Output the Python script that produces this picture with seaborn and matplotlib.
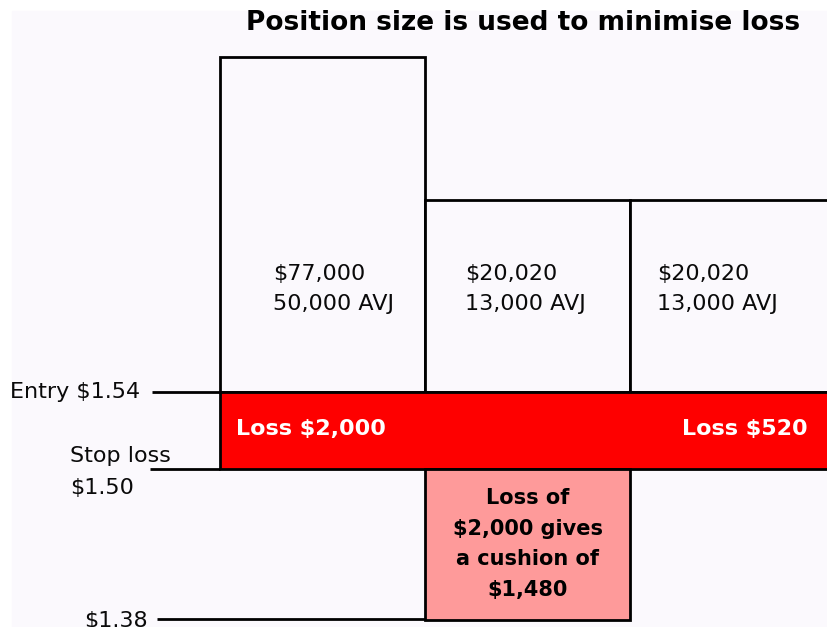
import matplotlib
matplotlib.use("Agg")
import matplotlib.pyplot as plt
import seaborn as sns
import pandas as pd

# ---- data (schematic levels, entry price = 0, stop loss = -1) ----
columns = ["Position A", "Position B", "Position C"]
box_heights = [4.35, 2.49, 2.49]
box_values = ["$77,000", "$20,020", "$20,020"]
box_shares = ["50,000 AVJ", "13,000 AVJ", "13,000 AVJ"]
price_labels = ["Entry $1.54", "Stop loss\n$1.50", "$1.38"]
price_levels = [0.0, -1.0, -2.95]
loss_labels = ["Loss $2,000", "Loss $520"]
cushion_bottom = -2.96
cushion_text = "Loss of\n$2,000 gives\na cushion of\n$1,480"
title = "Position size is used to minimise loss"

BG = "#fbf9fd"
RED = "#fe0000"
PINK = "#fe9a9a"

sns.set_theme(style="white")
plt.rcParams["font.family"] = ["DejaVu Sans"]

fig = plt.figure(figsize=(8.27, 6.27), dpi=100, facecolor="white")
ax = fig.add_axes([12 / 827, 0, 815 / 827, 616 / 627])
ax.set_facecolor(BG)

df = pd.DataFrame({"col": columns, "h": box_heights})
sns.barplot(data=df, x="col", y="h", width=1.0, color=BG, saturation=1,
            edgecolor="black", linewidth=2.0, ax=ax, zorder=2)

# red loss band between entry and stop loss
ax.bar(-0.5, price_levels[1] - price_levels[0], bottom=price_levels[0],
       width=3.0, align="edge", color=RED, edgecolor="black",
       linewidth=2.0, zorder=3)

# cushion box below stop loss under the middle column
ax.bar(1, cushion_bottom - price_levels[1], bottom=price_levels[1],
       width=1.0, color=PINK, edgecolor="black", linewidth=2.0, zorder=3)

# price level leader lines
ax.hlines(price_levels[0], -0.83, -0.5, color="black", lw=2.0, zorder=4)
ax.hlines(price_levels[1], -0.84, -0.5, color="black", lw=2.0, zorder=4)
ax.hlines(price_levels[2], -0.81, 0.5, color="black", lw=2.0, zorder=4)

fs = 16
TXT = "#0a0a0a"
ax.text(-0.89, price_levels[0], price_labels[0], ha="right", va="center",
        fontsize=fs, color=TXT)
ax.text(-1.232, price_levels[1] - 0.04, price_labels[1], ha="left",
        va="center", fontsize=fs, color=TXT, linespacing=1.72)
ax.text(-0.855, price_levels[2] - 0.03, price_labels[2], ha="right",
        va="center", fontsize=fs, color=TXT)

offsets = [-0.241, -0.305, -0.37]
for i, (v, s) in enumerate(zip(box_values, box_shares)):
    ax.text(i + offsets[i], 1.34, f"{v}\n{s}", ha="left", va="center",
            fontsize=fs, color=TXT, linespacing=1.64, zorder=5)

ax.text(-0.422, -0.48, loss_labels[0], ha="left", va="center",
        fontsize=fs, color="white", fontweight="bold", zorder=5)
ax.text(2.368, -0.48, loss_labels[1], ha="right", va="center",
        fontsize=fs, color="white", fontweight="bold", zorder=5)

ax.text(1.0, -1.974, cushion_text, ha="center", va="center",
        fontsize=15, color="black", fontweight="bold", linespacing=1.68,
        zorder=5)

ax.text(0.978, 4.79, title, ha="center", va="center", fontsize=19,
        fontweight="bold", color="black", zorder=5)

ax.set_xlim(-1.515, 2.461)
ax.set_ylim(-3.052, 4.948)
ax.axis("off")
fig.patches.append(plt.Rectangle((12 / 827, 0), 815 / 827, 616 / 627,
                                 transform=fig.transFigure, color=BG,
                                 zorder=-10))

fig.savefig("out.png", dpi=100, facecolor="white")
